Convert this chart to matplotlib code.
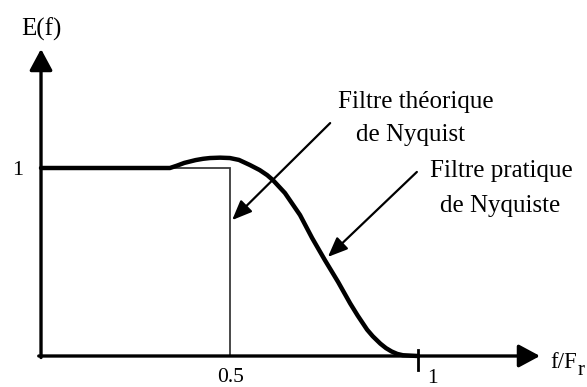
import matplotlib
matplotlib.use("Agg")
import matplotlib.pyplot as plt

# values (x in f/Fr, y in E(f))
practical_x = [0, 0.342, 0.36, 0.38, 0.41, 0.43, 0.448, 0.475, 0.501, 0.525,
               0.554, 0.58, 0.6, 0.615, 0.647, 0.687, 0.719, 0.753, 0.788,
               0.82, 0.84, 0.865, 0.88, 0.9, 0.915, 0.93, 0.945, 0.96, 1.0]
practical_y = [1.0, 1.0, 1.012, 1.027, 1.042, 1.049, 1.053, 1.055, 1.053, 1.043,
               1.016, 0.989, 0.962, 0.936, 0.867, 0.75, 0.628, 0.51, 0.394,
               0.28, 0.215, 0.14, 0.105, 0.066, 0.042, 0.024, 0.011, 0.004, 0.0]
theory_x = [0, 0.5, 0.5]
theory_y = [1, 1, 0]
xtick_vals = [0.5, 1]
xtick_labels = ["0.5", "1"]

plt.rcParams['font.family'] = ['Liberation Serif', 'DejaVu Serif']

fig = plt.figure(figsize=(5.87, 3.87), dpi=100)
ax = fig.add_axes([0, 0, 1, 1])
ax.set_xlim(-0.1088, 1.4483)
ax.set_ylim(-0.1649, 1.8936)
ax.axis("off")

head = "-|>,head_length=0.65,head_width=0.35"

# axes with arrows
ax.annotate("", xy=(0, 1.633), xytext=(0, -0.008),
            arrowprops=dict(arrowstyle=head, lw=2.4, color="black",
                            mutation_scale=20, shrinkA=0, shrinkB=0))
ax.annotate("", xy=(1.3236, 0), xytext=(-0.006, 0),
            arrowprops=dict(arrowstyle=head, lw=2.4, color="black",
                            mutation_scale=20, shrinkA=0, shrinkB=0))

# theoretical filter (thin) and practical filter (thick)
ax.plot(theory_x, theory_y, color="#3a3a3a", lw=1.3, solid_joinstyle="miter")
ax.plot(practical_x, practical_y, color="black", lw=3.2,
        solid_joinstyle="round", solid_capstyle="round")

# tick mark at 1
ax.plot([1, 1], [0.032, -0.074], color="black", lw=2.0)

# labels
ax.text(0, 1.707, "E(f)", fontsize=18, ha="center", va="baseline")
ax.text(-0.062, 0.963, "1", fontsize=16, ha="center", va="baseline")
ax.text(xtick_vals[0] + 0.004, -0.136, xtick_labels[0], fontsize=15.5,
        ha="center", va="baseline")
ax.text(xtick_vals[1] + 0.038, -0.144, xtick_labels[1], fontsize=15.5,
        ha="center", va="baseline")
ax.text(1.35, -0.064, "f/F", fontsize=16.5, ha="left", va="baseline")
ax.text(1.424, -0.101, "r", fontsize=15, ha="left", va="baseline")

# annotations
ax.text(0.995, 1.35, "Filtre théorique", fontsize=18, ha="center", va="center")
ax.text(0.979, 1.175, "de Nyquist", fontsize=18, ha="center", va="center")
ax.text(1.22, 0.984, "Filtre pratique", fontsize=18, ha="center", va="center")
ax.text(1.218, 0.798, "de Nyquiste", fontsize=18, ha="center", va="center")

arrow_head = "-|>,head_length=0.6,head_width=0.25"
ax.annotate("", xy=(0.507, 0.723), xytext=(0.767, 1.239),
            arrowprops=dict(arrowstyle=arrow_head, lw=1.6, color="black",
                            mutation_scale=20, shrinkA=0, shrinkB=0))
ax.annotate("", xy=(0.761, 0.527), xytext=(0.997, 0.979),
            arrowprops=dict(arrowstyle=arrow_head, lw=1.6, color="black",
                            mutation_scale=20, shrinkA=0, shrinkB=0))

fig.savefig("out.png", dpi=100)
